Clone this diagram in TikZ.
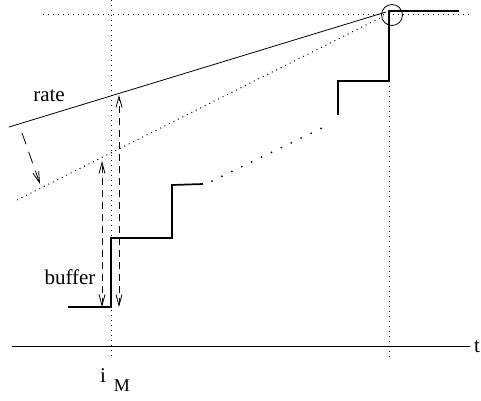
\documentclass[tikz,border=0pt]{standalone}
\usepackage{fontspec}
\setmainfont{Liberation Serif}
\usetikzlibrary{arrows.meta}
\begin{document}
\begin{tikzpicture}[x=1pt,y=-1pt,
  thinline/.style={line width=0.8pt},
  stair/.style={line width=1.7pt},
  guide/.style={line width=1pt, dash pattern=on 1pt off 4pt},
  bigdots/.style={line width=2pt, line cap=round, dash pattern=on 0pt off 11pt},
  barb/.style={Straight Barb[length=11pt,width=6pt]},
  dasharrow/.style={line width=0.8pt, dash pattern=on 12pt off 8pt, arrows={-Straight Barb[length=11pt,width=6pt]}},
  dbarrow/.style={line width=0.8pt, dash pattern=on 7pt off 5pt, arrows={Straight Barb[length=11pt,width=6pt]-Straight Barb[length=11pt,width=6pt]}},
  lab/.style={font=\fontsize{21}{24}\selectfont, inner sep=0pt},
  sublab/.style={font=\fontsize{18}{20}\selectfont, inner sep=0pt}
]
\useasboundingbox (0,0) rectangle (481,400);
% guide lines
\coordinate (vtop) at (111,0);
\coordinate (vbot) at (111,357);
\coordinate (wtop) at (389,81);
\coordinate (wbot) at (389,357);
\coordinate (htl) at (43,14);
\coordinate (htr) at (470,14);
\draw[guide] (vtop) -- (vbot);
\draw[guide] (wtop) -- (wbot);
\draw[guide] (htl) -- (htr);
% axis
\coordinate (ax0) at (12,346);
\coordinate (ax1) at (470,346);
\draw[thinline] (ax0) -- (ax1);
\node[lab] (t) at (477,347) {t};
% rate line and lower dotted line
\coordinate (r0) at (9,127);
\coordinate (r1) at (386,12);
\draw[thinline] (r0) -- (r1);
\coordinate (d0) at (17,200);
\coordinate (d1) at (384,16);
\draw[guide] (d0) -- (d1);
\node[draw, circle, thinline, minimum size=21pt, inner sep=0pt] (circ) at (392,15) {};
% staircase
\coordinate (s0) at (68,307);
\coordinate (s1) at (111,307);
\coordinate (s2) at (111,238);
\coordinate (s3) at (172,238);
\coordinate (s4) at (172,185);
\coordinate (s5) at (203,184);
\draw[stair] (s0) -- (s1) -- (s2) -- (s3) -- (s4) -- (s5);
\coordinate (p0) at (212,181);
\coordinate (p1) at (326,126);
\draw[bigdots] (p0) -- (p1);
\coordinate (u0) at (338,115);
\coordinate (u1) at (338,81);
\coordinate (u2) at (389,81);
\coordinate (u3) at (389,11);
\coordinate (u4) at (459,11);
\draw[stair] (u0) -- (u1) -- (u2) -- (u3) -- (u4);
% arrows
\coordinate (a0) at (22,133);
\coordinate (a1) at (40,184);
\draw[dasharrow] (a0) -- (a1);
\coordinate (b0) at (102,307);
\coordinate (b1) at (102,161);
\draw[dbarrow] (b0) -- (b1);
\coordinate (c0) at (119,307);
\coordinate (c1) at (119,95);
\draw[dbarrow] (c0) -- (c1);
% labels
\node[lab] (rate) at (49,96) {rate};
\node[lab] (buffer) at (70,277) {buffer};
\node[lab] (i) at (103,376) {i};
\node[sublab] (M) at (122,386) {M};
\end{tikzpicture}
\end{document}
